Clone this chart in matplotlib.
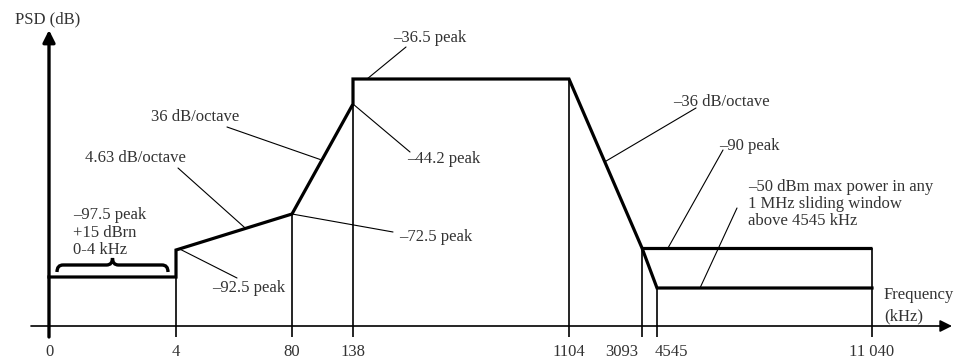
import numpy as np
import matplotlib.pyplot as plt
from matplotlib.path import Path
from matplotlib.patches import PathPatch
from matplotlib.transforms import IdentityTransform

W, H = 970, 363

# band edges (kHz) and the PSD mask (dBm/Hz)
freqs = [0, 4, 80, 138, 1104, 3093, 4545, 11040]
tick_labels = ['0', '4', '80', '138', '1104', '3093', '4545', '11 040']

mask_f = [0, 4, 4, 80, 138, 138, 1104, 3093, 4545, 11040]
mask_db = [-97.5, -97.5, -92.5, -72.5, -44.2, -36.5, -36.5, -90, -110, -110]
peak_f = [3093, 11040]
peak_db = [-90, -90]
drop_f = [4, 80, 138, 1104, 3093, 4545, 11040]
drop_db = [-92.5, -72.5, -36.5, -36.5, -90, -110, -90]

# schematic (not to scale) placement of the band edges and levels
x_anchor = [49, 176, 292, 353, 569, 642, 657, 872]
y_anchor_db = [-140, -110, -97.5, -92.5, -90, -72.5, -44.2, -36.5, -20]
y_anchor = [37, 75, 86, 113, 115, 149, 259, 284, 333]
floor_db = -140


def piecewise(src, dst):
    src = np.asarray(src, float)
    dst = np.asarray(dst, float)
    s0 = (dst[1] - dst[0]) / (src[1] - src[0])
    s1 = (dst[-1] - dst[-2]) / (src[-1] - src[-2])

    def f(v):
        v = np.asarray(v, float)
        out = np.interp(v, src, dst)
        out = np.where(v < src[0], dst[0] + (v - src[0]) * s0, out)
        out = np.where(v > src[-1], dst[-1] + (v - src[-1]) * s1, out)
        return out
    return f


xfwd, xinv = piecewise(freqs, x_anchor), piecewise(x_anchor, freqs)
yfwd, yinv = piecewise(y_anchor_db, y_anchor), piecewise(y_anchor, y_anchor_db)


def along(f0, d0, f1, d1, t):
    # point a fraction t along a drawn segment
    x = xfwd(f0) + t * (xfwd(f1) - xfwd(f0))
    y = yfwd(d0) + t * (yfwd(d1) - yfwd(d0))
    return float(xinv(x)), float(yinv(y))


plt.rcParams['font.family'] = ['Liberation Serif', 'DejaVu Serif']
ink = 'black'
txt = '#333333'
fs = 12

fig = plt.figure(figsize=(W / 100, H / 100), dpi=100)
ax = fig.add_axes([0, 0, 1, 1])
ax.set_xscale('function', functions=(xfwd, xinv))
ax.set_yscale('function', functions=(yfwd, yinv))
ax.set_xlim(float(xinv(0)), float(xinv(W)))
ax.set_ylim(float(yinv(0)), float(yinv(H)))
ax.set_axis_off()

tick_low = float(yinv(26))

# axes with arrows
ax.annotate('', xy=(float(xinv(952)), floor_db), xytext=(float(xinv(31)), floor_db),
            arrowprops=dict(arrowstyle='-|>,head_length=0.9,head_width=0.45', mutation_scale=8,
                            lw=1.2, color=ink, shrinkA=0, shrinkB=0))
ax.annotate('', xy=(0, float(yinv(333))), xytext=(0, tick_low),
            arrowprops=dict(arrowstyle='-|>,head_length=0.9,head_width=0.45', mutation_scale=8,
                            lw=2.4, color=ink, shrinkA=0, shrinkB=0))

# drop lines / ticks
ax.vlines(drop_f, tick_low, drop_db, colors=ink, lw=1.2)

# mask
ax.plot(mask_f, mask_db, color=ink, lw=2.3, solid_joinstyle='miter')
ax.plot(peak_f, peak_db, color=ink, lw=2.3, solid_capstyle='butt')

# tick labels
for f, lab in zip(freqs, tick_labels):
    ha = 'center'
    x = float(xfwd(f))
    if lab == '3093':
        ha, x = 'right', x - 4
    elif lab == '4545':
        ha, x = 'left', x - 2
    ax.annotate(lab, xy=(x, H - 352), xycoords='figure pixels', ha=ha, va='center',
                fontsize=fs, color=txt)


def label(s, x, y):
    ax.annotate(s, xy=(x, H - y), xycoords='figure pixels', ha='left', va='center',
                fontsize=fs, color=txt)


def leader(pt, x, y):
    ax.annotate('', xy=pt, xycoords='data', xytext=(x, H - y), textcoords='figure pixels',
                arrowprops=dict(arrowstyle='-', lw=0.8, color=ink, shrinkA=0, shrinkB=0))


label('PSD (dB)', 15, 19)
label('Frequency', 884, 295)
label('(kHz)', 884, 316)

label('36 dB/octave', 151, 117)
leader(along(80, -72.5, 138, -44.2, 0.49), 227, 127)

label('4.63 dB/octave', 85, 158)
leader(along(4, -92.5, 80, -72.5, 0.6), 178, 168)

label('–97.5 peak', 73, 215)
label('+15 dBrn', 73, 233)
label('0-4 kHz', 73, 250)

label('–92.5 peak', 212, 288)
leader(along(4, -92.5, 80, -72.5, 0.03), 237, 278)

label('–72.5 peak', 399, 237)
leader((80, -72.5), 393, 232)

label('–36.5 peak', 393, 38)
leader(along(138, -36.5, 1104, -36.5, 0.065), 406, 47)

label('–44.2 peak', 407, 159)
leader((138, -44.2), 410, 152)

label('–36 dB/octave', 673, 102)
leader(along(1104, -36.5, 3093, -90, 0.49), 696, 108)

label('–90 peak', 719, 146)
leader(along(3093, -90, 11040, -90, 0.113), 723, 150)

label('–50 dBm max power in any', 748, 187)
label('1 MHz sliding window', 748, 204)
label('above 4545 kHz', 748, 221)
leader(along(4545, -110, 11040, -110, 0.2), 737, 208)

# brace over the 0-4 kHz voice band
fig.canvas.draw()
xa, yb = ax.transData.transform((0, -97.5))
xb, _ = ax.transData.transform((4, -97.5))
xa, xb, yb = xa + 8, xb - 8, yb + 5
h = 14
xm = (xa + xb) / 2
q = 6
verts = [(xa, yb), (xa, yb + h / 2), (xa + q, yb + h / 2),
         (xm - q, yb + h / 2), (xm, yb + h / 2), (xm, yb + h),
         (xm, yb + h / 2), (xm + q, yb + h / 2),
         (xb - q, yb + h / 2), (xb, yb + h / 2), (xb, yb)]
codes = [Path.MOVETO, Path.CURVE3, Path.CURVE3,
         Path.LINETO, Path.CURVE3, Path.CURVE3,
         Path.CURVE3, Path.CURVE3,
         Path.LINETO, Path.CURVE3, Path.CURVE3]
ax.add_patch(PathPatch(Path(verts, codes), transform=IdentityTransform(),
                       fill=False, lw=2.4, color=ink))

fig.savefig('out.png', dpi=100)
